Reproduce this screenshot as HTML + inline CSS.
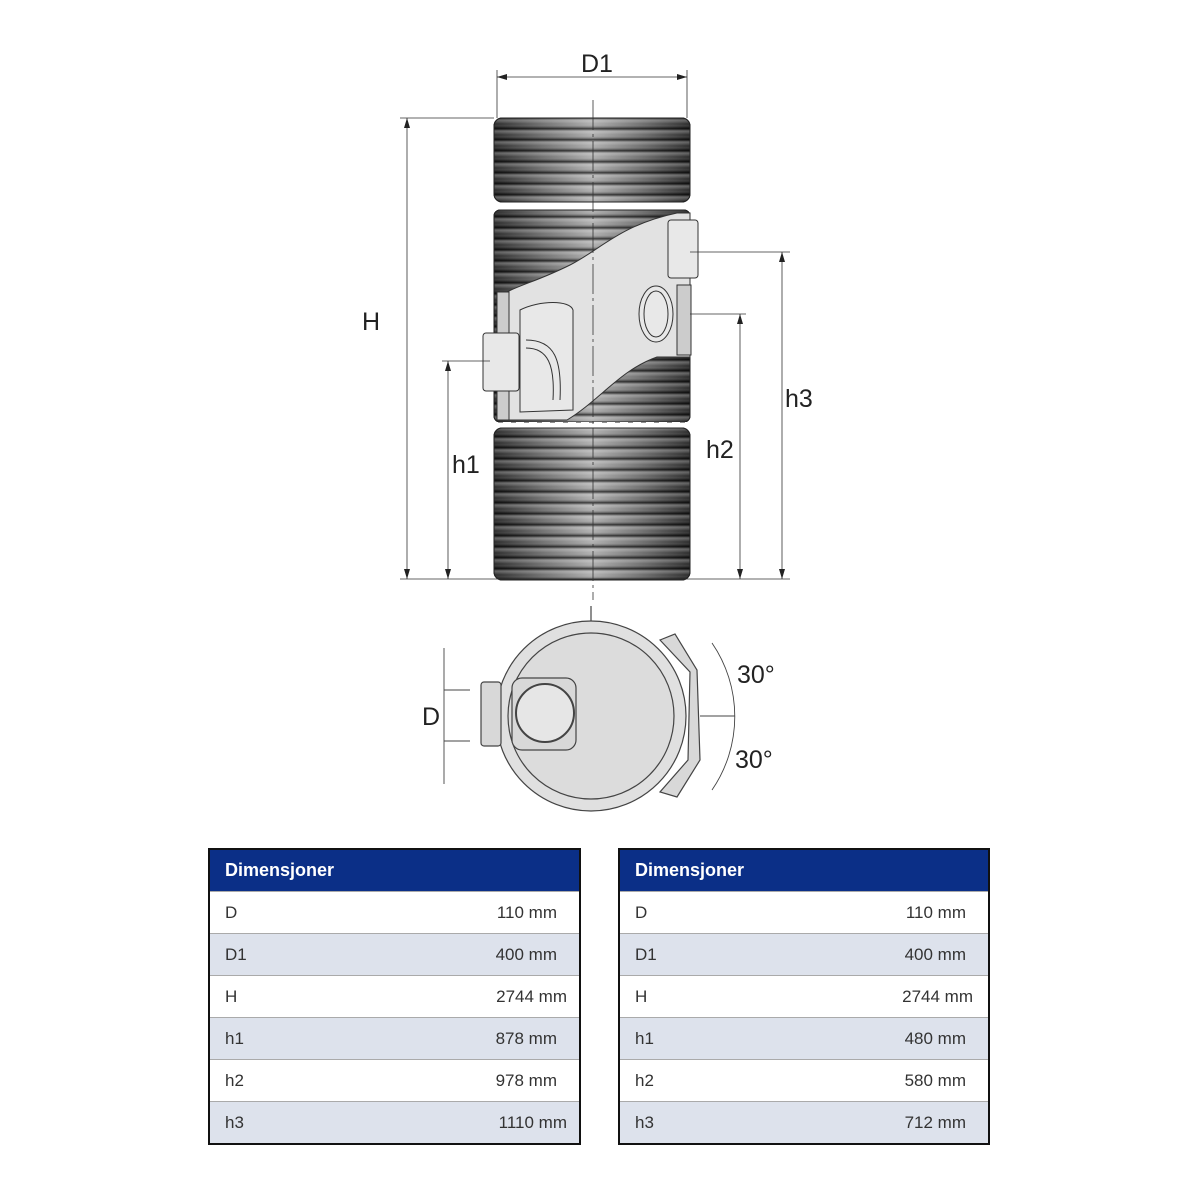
<!DOCTYPE html>
<html><head><meta charset="utf-8"><style>
body{margin:0;width:1200px;height:1200px;background:#fff;position:relative;overflow:hidden;font-family:"Liberation Sans",sans-serif}
svg{position:absolute;left:0;top:0}
.t{position:absolute;border:2px solid #111;background:#fff;overflow:hidden}
.t .h{height:41px;background:#0b2f87;color:#fff;font-weight:bold;font-size:18px;line-height:40px;padding-left:15px}
.t .r{height:42px;box-sizing:border-box;border-top:1px solid #aaa;font-size:17px;color:#333;line-height:42px;padding-left:15px;position:relative}
.t .r.a{background:#dde2ec}
.t .r span{position:absolute;right:22px}
</style></head><body>
<svg width="1200" height="840" viewBox="0 0 1200 840">
<defs>
<linearGradient id="g" x1="0" x2="1" y1="0" y2="0">
<stop offset="0" stop-color="#2a2a2a"/><stop offset="0.25" stop-color="#707070"/><stop offset="0.5" stop-color="#b0b0b0"/><stop offset="0.75" stop-color="#707070"/><stop offset="1" stop-color="#2a2a2a"/>
</linearGradient>
<linearGradient id="rv" x1="0" x2="0" y1="0" y2="1">
<stop offset="0" stop-color="#000" stop-opacity="0.6"/><stop offset="0.25" stop-color="#fff" stop-opacity="0.25"/><stop offset="0.55" stop-color="#fff" stop-opacity="0"/><stop offset="0.85" stop-color="#000" stop-opacity="0.3"/><stop offset="1" stop-color="#000" stop-opacity="0.7"/>
</linearGradient>
<pattern id="rib" x="0" y="118" width="10" height="11" patternUnits="userSpaceOnUse">
<rect x="0" y="0" width="10" height="11" fill="url(#rv)"/>
</pattern>
</defs>
<g stroke="#222" stroke-width="1">
<rect x="494" y="118" width="196" height="84" rx="8" fill="url(#g)"/>
<rect x="494" y="118" width="196" height="84" rx="8" fill="url(#rib)"/>
<rect x="494" y="210" width="196" height="212" rx="6" fill="url(#g)"/>
<rect x="494" y="210" width="196" height="212" rx="6" fill="url(#rib)"/>
<rect x="494" y="428" width="196" height="152" rx="8" fill="url(#g)"/>
<rect x="494" y="428" width="196" height="152" rx="8" fill="url(#rib)"/>
</g>
<g stroke="#fff" stroke-width="4" stroke-dasharray="8 5"><line x1="490" y1="205" x2="695" y2="205"/><line x1="490" y1="424" x2="695" y2="424"/></g>
<path d="M677 213 C620 225 600 250 570 265 C540 280 520 285 507 292 L507 420 L567 420 C600 400 620 370 657 357 L690 357 L690 213 Z" fill="#e2e2e2" stroke="#333"/>
<g fill="#e8e8e8" stroke="#333">
<rect x="497" y="292" width="12" height="128" fill="#ccc"/>
<rect x="668" y="220" width="30" height="58" rx="3"/>
<rect x="677" y="285" width="14" height="70" fill="#ccc"/>
<ellipse cx="656" cy="314" rx="17" ry="28"/>
<ellipse cx="656" cy="314" rx="12" ry="23"/>
<path d="M520 310 C540 300 570 300 573 310 L573 410 L520 412 Z"/>
<path d="M526 340 C555 340 562 360 560 400" fill="none"/>
<path d="M526 348 C548 348 555 365 553 400" fill="none"/>
<rect x="483" y="333" width="36" height="58" rx="3"/>
</g>
<g stroke="#333" stroke-width="0.8" fill="none">
<line x1="593" y1="100" x2="593" y2="600" stroke-dasharray="30 4 3 4"/>
<line x1="497" y1="70" x2="497" y2="118"/><line x1="687" y1="70" x2="687" y2="118"/>
<line x1="497" y1="77" x2="687" y2="77"/>
<line x1="400" y1="118" x2="494" y2="118"/><line x1="400" y1="579" x2="790" y2="579"/>
<line x1="407" y1="118" x2="407" y2="579"/>
<line x1="442" y1="361" x2="490" y2="361"/><line x1="448" y1="361" x2="448" y2="579"/>
<line x1="690" y1="252" x2="790" y2="252"/><line x1="782" y1="252" x2="782" y2="579"/>
<line x1="690" y1="314" x2="746" y2="314"/><line x1="740" y1="314" x2="740" y2="579"/>
</g>
<g fill="#222">
<path d="M497 77 l10 -3 v6z M687 77 l-10 -3 v6z"/>
<path d="M407 118 l-3 10 h6z M407 579 l-3 -10 h6z"/>
<path d="M448 361 l-3 10 h6z M448 579 l-3 -10 h6z"/>
<path d="M782 252 l-3 10 h6z M782 579 l-3 -10 h6z"/>
<path d="M740 314 l-3 10 h6z M740 579 l-3 -10 h6z"/>
</g>
<g font-family="Liberation Sans,sans-serif" font-size="25" fill="#222">
<text x="581" y="72">D1</text><text x="362" y="330">H</text><text x="452" y="473">h1</text>
<text x="706" y="458">h2</text><text x="785" y="407">h3</text>
<text x="422" y="725">D</text><text x="737" y="683">30°</text><text x="735" y="768">30°</text>
</g>
<g stroke="#444" stroke-width="1.2">
<line x1="591" y1="606" x2="591" y2="622"/>
<circle cx="591" cy="716" r="95" fill="#e0e0e0"/>
<circle cx="591" cy="716" r="83" fill="#dcdcdc"/>
<path d="M660 640 L675 634 L697 670 L700 760 L677 797 L660 792 L688 760 L690 672 Z" fill="#d8d8d8"/>
<rect x="481" y="682" width="20" height="64" rx="3" fill="#d8d8d8"/>
<rect x="512" y="678" width="64" height="72" rx="10" fill="#d8d8d8"/>
<circle cx="545" cy="713" r="29" fill="#e6e6e6" stroke-width="2"/>
<g fill="none" stroke-width="0.9">
<line x1="444" y1="648" x2="444" y2="784"/><line x1="444" y1="690" x2="470" y2="690"/><line x1="444" y1="741" x2="470" y2="741"/>
<path d="M712 643 A130 130 0 0 1 712 790"/>
<line x1="700" y1="716" x2="735" y2="716"/>
</g>
</g>
</svg>
<div class="t" style="left:208px;top:848px;width:369px;height:293px">
<div class="h">Dimensjoner</div>
<div class="r">D<span>110 mm</span></div>
<div class="r a">D1<span>400 mm</span></div>
<div class="r">H<span style="right:12px">2744 mm</span></div>
<div class="r a">h1<span>878 mm</span></div>
<div class="r">h2<span>978 mm</span></div>
<div class="r a">h3<span style="right:12px">1110 mm</span></div>
</div>
<div class="t" style="left:618px;top:848px;width:368px;height:293px">
<div class="h">Dimensjoner</div>
<div class="r">D<span>110 mm</span></div>
<div class="r a">D1<span>400 mm</span></div>
<div class="r">H<span style="right:15px">2744 mm</span></div>
<div class="r a">h1<span>480 mm</span></div>
<div class="r">h2<span>580 mm</span></div>
<div class="r a">h3<span>712 mm</span></div>
</div>
</body></html>
